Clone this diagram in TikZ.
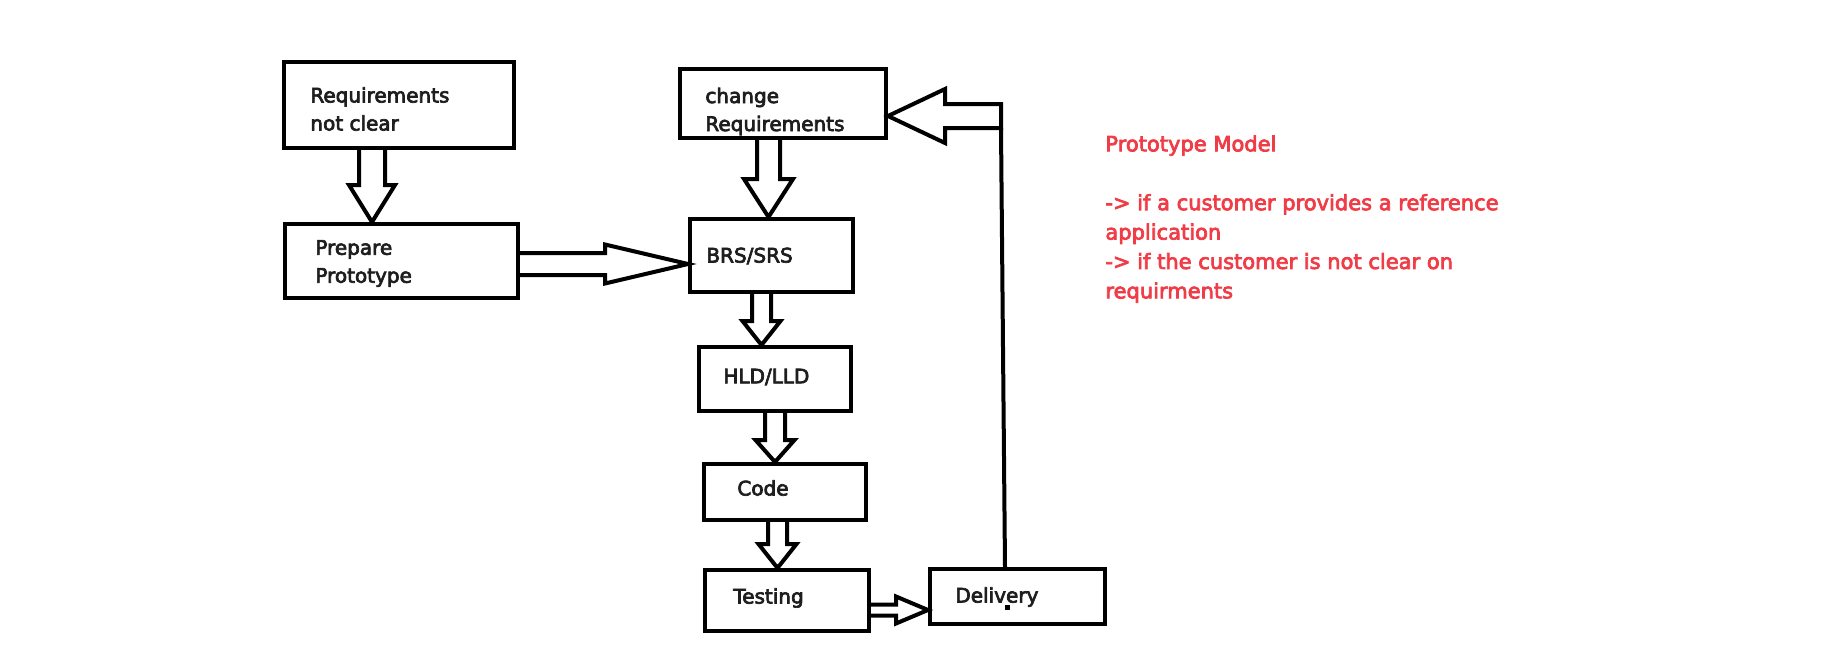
\documentclass[tikz,border=0pt]{standalone}
\usepackage{fontspec}
\newfontfamily\hand[FakeBold=3.5]{DejaVu Sans}
\usetikzlibrary{calc}
\definecolor{inkred}{RGB}{240,60,70}
\definecolor{ink}{RGB}{30,30,30}

\begin{document}
\begin{tikzpicture}[
    x = 0.5pt, y = -0.5pt,
    % boxes of the stages
    stage/.style = {draw, line width = 2pt, inner sep = 0pt},
    txt/.style = {anchor = west, inner sep = 0pt, align = left, text = ink,
      font = \hand\fontsize{10}{14}\selectfont},
    blk/.style = {draw, line width = 2pt, line join = miter},
    ]

    % fat arrows: start, tip, half shaft, half head, head length (pt)
    \def\fatdown#1#2#3#4#5{
        \draw[blk] let \p1 = (#1), \p2 = (#2) in
          (\x1-#3pt,\y1) -- (\x1-#3pt,\y2+#5pt) -- (\x1-#4pt,\y2+#5pt) -- (\x1,\y2)
          -- (\x1+#4pt,\y2+#5pt) -- (\x1+#3pt,\y2+#5pt) -- (\x1+#3pt,\y1);
    }
    \def\fatright#1#2#3#4#5{
        \draw[blk] let \p1 = (#1), \p2 = (#2) in
          (\x1,\y1+#3pt) -- (\x2-#5pt,\y1+#3pt) -- (\x2-#5pt,\y1+#4pt) -- (\x2,\y1)
          -- (\x2-#5pt,\y1-#4pt) -- (\x2-#5pt,\y1-#3pt) -- (\x1,\y1-#3pt);
    }
    \def\fatleft#1#2#3#4#5{
        \draw[blk] let \p1 = (#1), \p2 = (#2) in
          (\x1,\y1+#3pt) -- (\x2+#5pt,\y1+#3pt) -- (\x2+#5pt,\y1+#4pt) -- (\x2,\y1)
          -- (\x2+#5pt,\y1-#4pt) -- (\x2+#5pt,\y1-#3pt) -- (\x1,\y1-#3pt) -- cycle;
    }

    \useasboundingbox (0,0) rectangle (1828,648);

    % the stages
    \node[stage, minimum width = 115pt, minimum height = 43pt] (req) at (399,105) {};
    \node[stage, minimum width = 116.5pt, minimum height = 37pt] (prep) at (401.5,261) {};
    \node[stage, minimum width = 103pt, minimum height = 34.5pt] (change) at (783,103.5) {};
    \node[stage, minimum width = 81.5pt, minimum height = 36.5pt] (brs) at (771.5,255.5) {};
    \node[stage, minimum width = 76pt, minimum height = 32pt] (hld) at (775,379) {};
    \node[stage, minimum width = 81pt, minimum height = 28pt] (code) at (785,492) {};
    \node[stage, minimum width = 82pt, minimum height = 30.5pt] (testing) at (787,600.5) {};
    \node[stage, minimum width = 87.5pt, minimum height = 27.5pt] (delivery) at (1017.5,596.5) {};

    % labels of the stages
    \node[txt] (reqtxt) at (310,109) {Requirements\\not clear};
    \node[txt] (preptxt) at (315,263.5) {Prepare\\Prototype};
    \node[txt] (changetxt) at (705,111.5) {change\\Requirements};
    \node[txt] (brstxt) at (706,256) {BRS/SRS};
    \node[txt] (hldtxt) at (723,377) {HLD/LLD};
    \node[txt] (codetxt) at (737,488) {Code};
    \node[txt] (testingtxt) at (733,598) {Testing};
    \node[txt] (deliverytxt) at (955,597) {Delivery};

    % fat arrows between the stages
    \fatdown{372,0 |- req.south}{prep.north}{6.5}{11.5}{18.5}
    \fatright{prep.east |- 0,264}{brs.west}{5.5}{9.75}{41.5}
    \fatdown{768.5,0 |- change.south}{brs.north}{5.75}{12.25}{19}
    \fatdown{761.5,0 |- brs.south}{hld.north}{4.75}{9.5}{12}
    \fatdown{775,0 |- hld.south}{code.north}{5}{9.75}{11}
    \fatdown{777.5,0 |- code.south}{testing.north}{4.75}{9.5}{12}
    \fatright{testing.east |- 0,610}{delivery.west}{2.75}{6.75}{16}

    % feedback from delivery back to change requirements
    \coordinate (up) at (1001,116);
    \draw[blk] (1005,0 |- delivery.north) -- ($(up)+(0,12)$);
    \fatleft{up}{change.east}{6}{13.5}{28.5}
    \fill (1005,605) rectangle ++(5,5);

    % notes
    \node[txt, anchor = north west, text = inkred,
      font = \hand\fontsize{10.5}{14.7}\selectfont] (notes) at (1105,135)
      {Prototype Model\\[14.7pt]
       -> if a customer provides a reference\\
       application\\
       -> if the customer is not clear on\\
       requirments};
\end{tikzpicture}
\end{document}
